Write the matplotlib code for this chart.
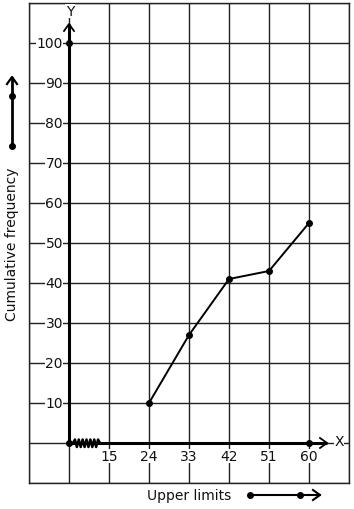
import matplotlib
matplotlib.use("Agg")
import matplotlib.pyplot as plt
import numpy as np

# Data
upper_limits = [24, 33, 42, 51, 60]
cum_freq = [10, 27, 41, 43, 55]
x_tick_values = [15, 24, 33, 42, 51, 60]
y_tick_values = [10, 20, 30, 40, 50, 60, 70, 80, 90, 100]
x_label = "Upper limits"
y_label = "Cumulative frequency"

def pos(x):
    # broken x-axis: 15 -> 1, 24 -> 2, ... step 9
    return (np.asarray(x, dtype=float) - 6) / 9.0

W, H = 354, 510
fig = plt.figure(figsize=(W / 100, H / 100), dpi=100)
ax = fig.add_axes([29 / W, (H - 484) / H, 320 / W, 480 / H])
ax.set_xlim(-1, 7)
ax.set_ylim(-10, 110)
ax.set_xticks(np.arange(-1, 8))
ax.set_yticks(np.arange(-10, 111, 10))
ax.grid(True, color="#222222", lw=1.0)
ax.tick_params(length=0, labelbottom=False, labelleft=False)
for s in ax.spines.values():
    s.set_color("#222222")
    s.set_linewidth(1.0)

# per-pixel units
ux = 8 / 320.0
uy = 120 / 480.0
fs = 10
tc = "#111111"

# main axes lines
tip_x = pos(60) + 18 * ux
tip_y = 100 + 19 * uy
ax.plot([0, tip_x], [0, 0], color="black", lw=2.2, clip_on=False, zorder=5, solid_capstyle="butt")
ax.plot([0, 0], [0, tip_y], color="black", lw=2.2, clip_on=False, zorder=5, solid_capstyle="butt")
# chevrons
ax.plot([tip_x - 7 * ux, tip_x, tip_x - 7 * ux], [5 * uy, 0, -5 * uy], color="black", lw=1.3, clip_on=False, zorder=5)
ax.plot([-5 * ux, 0, 5 * ux], [tip_y - 7 * uy, tip_y, tip_y - 7 * uy], color="black", lw=1.3, clip_on=False, zorder=5)

# zigzag break
n = 15
zx = np.linspace(4 * ux, 31 * ux, n)
zy = np.array([0 if i in (0, n - 1) else (3.5 if i % 2 else -4) for i in range(n)]) * uy
ax.plot(zx, zy, color="black", lw=1.8, zorder=6)

# axis points
ax.plot([0, 0, pos(60)], [0, 100, 0], "o", color="black", ms=4, zorder=7, clip_on=False)

# data line
ax.plot(pos(upper_limits), cum_freq, "-o", color="black", lw=1.4, ms=4, zorder=8)

# tick labels
for v in y_tick_values:
    ax.text(-6 * ux, v, str(v), ha="right", va="center", fontsize=fs, color=tc,
            bbox=dict(facecolor="white", edgecolor="none", pad=0.3), zorder=4)
for v in x_tick_values:
    ax.text(pos(v), -13 * uy, str(v), ha="center", va="center", fontsize=fs, color=tc,
            bbox=dict(facecolor="white", edgecolor="none", pad=0.3), zorder=4)

# axis letters
ax.text(tip_x + 12 * ux, 0.5, "X", ha="center", va="center", fontsize=fs, color=tc,
        bbox=dict(facecolor="white", edgecolor="none", pad=0.3), zorder=4, clip_on=False)
ax.text(1 * ux, 100 + 32 * uy, "Y", ha="center", va="center", fontsize=fs, color=tc,
        bbox=dict(facecolor="white", edgecolor="none", pad=0.3), zorder=4, clip_on=False)

# left label and arrow
lx = -57 * ux
ax.text(lx, 200 * uy, y_label, rotation=90, ha="center", va="center", fontsize=fs, color=tc, clip_on=False)
ax.plot([lx, lx], [(444 - 147) * uy, (444 - 79) * uy], color="black", lw=2.0, clip_on=False)
ax.plot([lx, lx], [(444 - 147) * uy, (444 - 97) * uy], "o", color="black", ms=4, clip_on=False)
ty = (444 - 78) * uy
ax.plot([lx - 5 * ux, lx, lx + 5 * ux], [ty - 7 * uy, ty, ty - 7 * uy], color="black", lw=1.6, clip_on=False)

# bottom label and arrow
by = -52 * uy
ax.text(3 + 0 * ux, by, x_label, ha="center", va="center", fontsize=fs, color=tc, clip_on=False)
ax.plot([(250 - 69) * ux, (320 - 69) * ux], [by, by], color="black", lw=1.5, clip_on=False)
ax.plot([(250 - 69) * ux, (300 - 69) * ux], [by, by], "o", color="black", ms=4, clip_on=False)
tx = (320 - 69) * ux
ax.plot([tx - 7 * ux, tx, tx - 7 * ux], [by + 5 * uy, by, by - 5 * uy], color="black", lw=1.5, clip_on=False)

fig.savefig("out.png", dpi=100)
